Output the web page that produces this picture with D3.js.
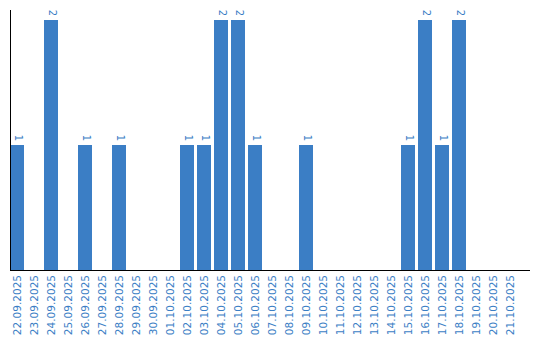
<!DOCTYPE html>
<html>
  <head>
    <meta charset="utf-8">
    <title>Bars</title>
    <script src="https://d3js.org/d3.v7.min.js"></script>
    <style>
      body { margin: 0; background: #fff; font-family: "DejaVu Sans"; }
    </style>
  </head>
  <body>
    <svg></svg>
    <script>
      // Data
      var days = ["22.09.2025","23.09.2025","24.09.2025","25.09.2025","26.09.2025","27.09.2025",
        "28.09.2025","29.09.2025","30.09.2025","01.10.2025","02.10.2025","03.10.2025","04.10.2025",
        "05.10.2025","06.10.2025","07.10.2025","08.10.2025","09.10.2025","10.10.2025","11.10.2025",
        "12.10.2025","13.10.2025","14.10.2025","15.10.2025","16.10.2025","17.10.2025","18.10.2025",
        "19.10.2025","20.10.2025","21.10.2025"];
      var counts = [1,0,2,0,1,0,1,0,0,0,1,1,2,2,1,0,0,1,0,0,0,0,0,1,2,1,2,0,0,0];

      var blue = "#3b7ec5";

      var svg = d3.select("svg")
        .attr("width", 540)
        .attr("height", 340);

      // step of 17px, bars 14px wide
      var x = d3.scaleBand()
        .domain(days)
        .range([10, 517])
        .paddingInner(3 / 17)
        .paddingOuter(0);

      var y = d3.scaleLinear()
        .domain([0, 2])
        .range([270, 20]);

      // Bars
      svg.selectAll("rect.bar")
        .data(days)
        .enter().append("rect")
          .attr("class", "bar")
          .attr("x", function(d) { return x(d); })
          .attr("y", function(d, i) { return y(counts[i]); })
          .attr("width", x.bandwidth())
          .attr("height", function(d, i) { return y(0) - y(counts[i]); })
          .style("fill", blue);

      // Value labels (rotated)
      svg.selectAll("text.val")
        .data(days.filter(function(d, i) { return counts[i] > 0; }))
        .enter().append("text")
          .attr("class", "val")
          .attr("transform", function(d) {
            var v = counts[days.indexOf(d)];
            return "translate(" + (x(d) + 4.5) + "," + (y(v) - 7) + ") rotate(90)";
          })
          .attr("text-anchor", "middle")
          .style("font-size", "10px")
          .style("fill", blue)
          .text(function(d) { return counts[days.indexOf(d)]; });

      // Axes
      svg.append("line")
        .attr("x1", 10.5).attr("x2", 10.5)
        .attr("y1", 10).attr("y2", 270)
        .style("stroke", "#000");
      svg.append("line")
        .attr("x1", 10).attr("x2", 530)
        .attr("y1", 270.5).attr("y2", 270.5)
        .style("stroke", "#000");

      // Date labels
      svg.selectAll("text.day")
        .data(days)
        .enter().append("text")
          .attr("class", "day")
          .attr("transform", function(d) {
            return "translate(" + (x(d) + 11) + ",275) rotate(-90)";
          })
          .attr("text-anchor", "end")
          .style("font-size", "10.5px")
          .style("fill", blue)
          .text(function(d) { return d; });
    </script>
  </body>
</html>
